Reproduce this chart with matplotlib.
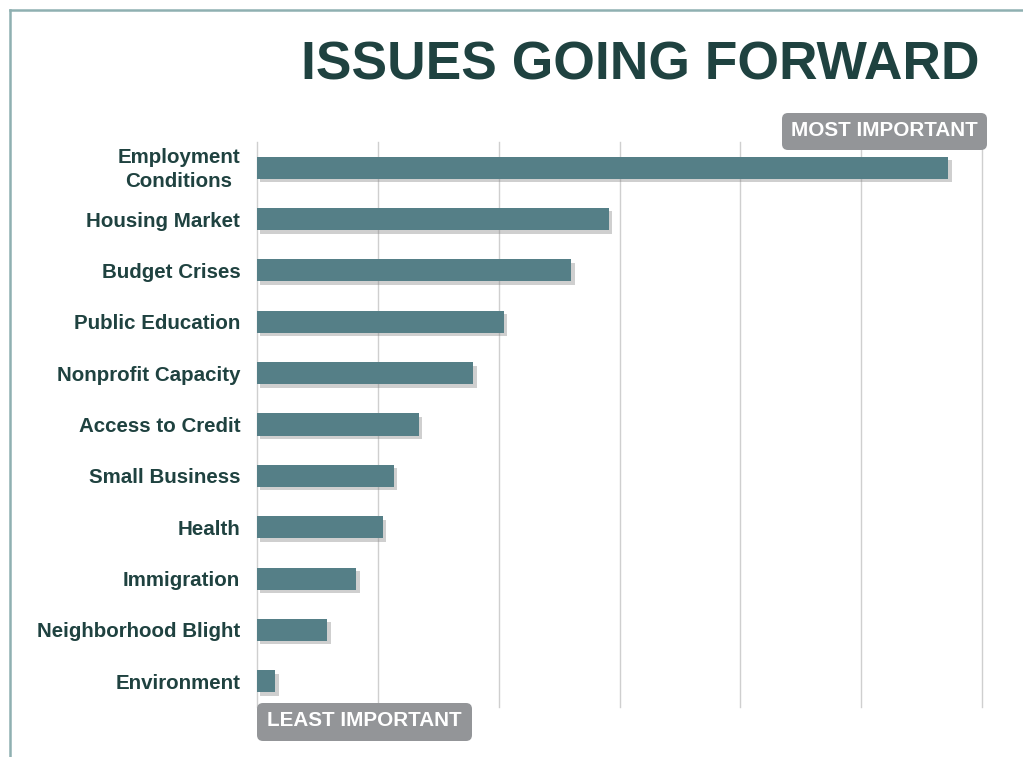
import matplotlib
matplotlib.use("Agg")
import matplotlib.pyplot as plt
import matplotlib.patheffects as pe
import matplotlib.transforms as mtransforms
from matplotlib.patches import FancyBboxPatch
from matplotlib.lines import Line2D

# Issues ranked by importance (relative score, one grid step per unit)
issues = [
    "Employment\nConditions",
    "Housing Market",
    "Budget Crises",
    "Public Education",
    "Nonprofit Capacity",
    "Access to Credit",
    "Small Business",
    "Health",
    "Immigration",
    "Neighborhood Blight",
    "Environment",
]
scores = [5.72, 2.91, 2.60, 2.04, 1.79, 1.34, 1.13, 1.04, 0.82, 0.58, 0.15]
grid_ticks = [0, 1, 2, 3, 4, 5, 6]

TITLE = "ISSUES GOING FORWARD"
TOP_TAG = "MOST IMPORTANT"
BOTTOM_TAG = "LEAST IMPORTANT"

DARK = "#1f4240"
BAR = "#557f87"
TAG = "#939598"
FRAME = "#8fb0b1"
GRID = "#cfcfcf"
FONT = "Liberation Sans"

W, H = 1023, 757
fig = plt.figure(figsize=(W / 100, H / 100), dpi=100)
fig.patch.set_facecolor("white")

# plot area in pixel terms
left, right, top, bottom = 257, 982, 142, 707
ax = fig.add_axes([left / W, 1 - bottom / H, (right - left) / W, (bottom - top) / H])

ypos = list(range(len(issues)))
bars = ax.barh(ypos, scores, height=0.43, color=BAR, zorder=3)
for b in bars:
    b.set_path_effects([
        pe.SimplePatchShadow(offset=(2.5, -2.5), shadow_rgbFace="#888888", alpha=0.4),
        pe.Normal(),
    ])

ax.set_xlim(grid_ticks[0], grid_ticks[-1])
ax.set_ylim(len(issues) - 0.5, -0.5)
ax.set_xticks(grid_ticks)
ax.xaxis.grid(True, color=GRID, linewidth=1.0, zorder=0)
for gl in ax.get_xgridlines():
    gl.set_clip_on(False)
ax.set_axisbelow(True)
ax.tick_params(axis="x", length=0, labelbottom=False)
ax.tick_params(axis="y", length=0, pad=12)
ax.set_yticks(ypos)
ax.set_yticklabels(issues, fontfamily=FONT, fontweight="bold", fontsize=14.8,
                   color=DARK, linespacing=1.35)
for lbl in ax.get_yticklabels():
    lbl.set_horizontalalignment("right")
    lbl.set_multialignment("center")
# nudge the two-line label up so its lines sit evenly around the bar
two_line = ax.get_yticklabels()[0]
two_line.set_transform(two_line.get_transform()
                       + mtransforms.ScaledTranslation(0, 3 / 100, fig.dpi_scale_trans))
for s in ax.spines.values():
    s.set_visible(False)

# title
fig.text(640 / W, 1 - 65 / H, TITLE, ha="center", va="center",
         fontfamily=FONT, fontweight="bold", fontsize=38.4, color=DARK)

# frame lines along the top and left edge
fig.add_artist(Line2D([10 / W, 10 / W], [0, 1 - 10 / H], transform=fig.transFigure,
                      color=FRAME, linewidth=1.8))
fig.add_artist(Line2D([10 / W, 1], [1 - 10 / H, 1 - 10 / H], transform=fig.transFigure,
                      color=FRAME, linewidth=1.8))

# scale tags
def tag(x0, y0, x1, y1, text):
    tr = fig.dpi_scale_trans
    box = FancyBboxPatch((x0 / 100, (H - y1) / 100), (x1 - x0) / 100, (y1 - y0) / 100,
                         boxstyle="round,pad=0,rounding_size=0.06", transform=tr,
                         facecolor=TAG, edgecolor="none")
    fig.add_artist(box)
    fig.text((x0 + x1) / 2 / W, 1 - ((y0 + y1) / 2 - 1) / H, text, ha="center", va="center",
             fontfamily=FONT, fontweight="bold", fontsize=14.9, color="white")

tag(782, 113, 987, 150, TOP_TAG)
tag(257, 703, 472, 741, BOTTOM_TAG)

fig.savefig("out.png", dpi=100, facecolor="white")
